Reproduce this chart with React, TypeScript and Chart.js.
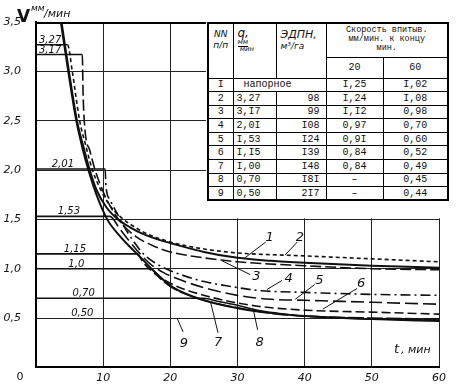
import React, { useEffect, useRef } from 'react';
import { Chart, registerables } from 'chart.js';

Chart.register(...registerables);

// ---- data (t in minutes, V in mm/min) ----
const c1T = [3.8, 4.9, 6.1, 7.0, 8.0, 9.0, 10.5, 12.2, 14, 16, 18, 20, 25, 30, 35, 40, 50, 60];
const c1V = [3.5, 3.0, 2.5, 2.25, 2.0, 1.8, 1.62, 1.5, 1.42, 1.35, 1.3, 1.26, 1.17, 1.11, 1.08, 1.06, 1.03, 1.01];

const c2T = [0, 4.7, 5.4, 6.5, 7.4, 8.4, 9.5, 10.8, 12.5, 14.5, 17, 20, 25, 30, 40, 50, 60];
const c2V = [3.27, 3.27, 3.0, 2.5, 2.25, 2.0, 1.82, 1.66, 1.53, 1.43, 1.34, 1.27, 1.2, 1.16, 1.13, 1.1, 1.07];

const c3T = [0, 6.9, 7.0, 7.3, 8.0, 8.8, 10, 11.5, 13, 15, 17.5, 20, 25, 30, 40, 50, 60];
const c3V = [3.17, 3.17, 2.8, 2.4, 2.2, 2.0, 1.78, 1.58, 1.44, 1.32, 1.23, 1.17, 1.11, 1.07, 1.03, 1.0, 0.99];

const c4T = [0, 10.3, 10.4, 11, 12, 13, 14.5, 16, 17.7, 20, 22, 25, 29, 33, 40, 50, 60];
const c4V = [2.01, 2.01, 1.85, 1.7, 1.57, 1.44, 1.28, 1.15, 1.06, 0.98, 0.93, 0.87, 0.82, 0.78, 0.76, 0.74, 0.73];

const c5T = [0, 11, 12.5, 14, 15.5, 17, 19, 21, 23, 26, 30, 35, 40, 50, 60];
const c5V = [1.53, 1.53, 1.4, 1.27, 1.15, 1.05, 0.96, 0.9, 0.85, 0.79, 0.73, 0.69, 0.68, 0.66, 0.64];

const c6T = [0, 15, 16, 17.5, 19, 21, 24, 28, 33, 40, 50, 60];
const c6V = [1.15, 1.15, 1.06, 0.96, 0.89, 0.82, 0.75, 0.68, 0.62, 0.58, 0.56, 0.54];

const c7T = [0, 17, 18.5, 20, 22, 25, 28, 32, 36, 40, 50, 60];
const c7V = [1.0, 1.0, 0.9, 0.82, 0.75, 0.68, 0.63, 0.58, 0.54, 0.52, 0.5, 0.49];

const c8T = [0, 25, 27, 30, 33, 36, 40, 45, 50, 60];
const c8V = [0.7, 0.7, 0.67, 0.63, 0.58, 0.55, 0.52, 0.5, 0.49, 0.48];

const c9T = [3.7, 4.8, 6.0, 7.0, 7.8, 9.0, 10.6, 12.5, 14, 15.5, 17.5, 20.4, 25, 30, 35, 40, 50, 60];
const c9V = [3.5, 3.0, 2.5, 2.2, 2.0, 1.75, 1.5, 1.33, 1.22, 1.12, 0.98, 0.81, 0.68, 0.6, 0.55, 0.52, 0.49, 0.47];

// curve number labels and their leader lines
const numLabels = ['1', '2', '3', '4', '5', '6', '7', '8', '9'];
const numLabelT = [34.8, 39.3, 32.8, 37.6, 42.2, 48.4, 27.1, 33.3, 22.0];
const numLabelV = [1.31, 1.31, 0.92, 0.90, 0.88, 0.85, 0.25, 0.25, 0.24];
const leadFromT = [34.2, 38.9, 31.9, 36.6, 41.5, 47.8, 27.1, 33.0, 21.9];
const leadFromV = [1.27, 1.27, 0.94, 0.88, 0.84, 0.80, 0.35, 0.38, 0.36];
const leadToT = [31.1, 37.1, 27.7, 34.4, 38.6, 42.7, 26.0, 32.3, 21.0];
const leadToV = [1.11, 1.14, 1.08, 0.79, 0.69, 0.59, 0.66, 0.60, 0.50];

// labels of the supply-rate lines
const qLabels = ['3,27', '3,17', '2,01', '1,53', '1,15', '1,0', '0,70', '0,50'];
const qLabelT = [2.1, 2.1, 4.0, 4.9, 5.8, 6.0, 7.1, 6.9];
const qLabelV = [3.27, 3.17, 2.01, 1.53, 1.15, 1.0, 0.7, 0.5];

// table
const tableNums = ['I', '2', '3', '4', '5', '6', '7', '8', '9'];
const tableQ = ['напорное', '3,27', '3,I7', '2,0I', 'I,53', 'I,I5', 'I,00', '0,70', '0,50'];
const tableEdpn = ['', '98', '99', 'I08', 'I24', 'I39', 'I48', 'I8I', '2I7'];
const table20 = ['I,25', 'I,24', 'I,I2', '0,97', '0,9I', '0,84', '0,84', '–', '–'];
const table60 = ['I,02', 'I,08', '0,98', '0,70', '0,60', '0,52', '0,49', '0,45', '0,44'];

const INK = '#111';
const hand = '"DejaVu Sans", sans-serif';
const mono = '"Liberation Mono", "DejaVu Sans Mono", monospace';

const styles = [
  { t: c1T, v: c1V, w: 2, dash: [] as number[] },
  { t: c2T, v: c2V, w: 1.6, dash: [4, 3] },
  { t: c3T, v: c3V, w: 1.6, dash: [11, 4] },
  { t: c4T, v: c4V, w: 1.6, dash: [10, 4, 2, 4] },
  { t: c5T, v: c5V, w: 1.6, dash: [13, 5] },
  { t: c6T, v: c6V, w: 1.6, dash: [9, 4] },
  { t: c7T, v: c7V, w: 1.6, dash: [16, 3] },
  { t: c8T, v: c8V, w: 1.4, dash: [] as number[] },
  { t: c9T, v: c9V, w: 2, dash: [] as number[] },
];

const annotPlugin = {
  id: 'annot',
  beforeDatasetsDraw(chart: any) {
    const { ctx, scales, width } = chart;
    const x = scales.x, y = scales.y;
    const mx = x.getPixelForValue(25.3);
    const my = y.getPixelForValue(1.5) - 1;
    ctx.save();
    ctx.fillStyle = '#fff';
    ctx.fillRect(mx, 0, width - mx, my);
    ctx.restore();
  },
  afterDraw(chart: any) {
    const { ctx, scales, chartArea } = chart;
    const x = scales.x;
    ctx.save();
    ctx.strokeStyle = '#000';
    ctx.lineWidth = 2;
    ctx.setLineDash([]);
    ctx.beginPath();
    ctx.moveTo(chartArea.left - 1, chartArea.top + 1);
    ctx.lineTo(x.getPixelForValue(25.3), chartArea.top + 1);
    ctx.stroke();
    ctx.restore();
  },
  afterDatasetsDraw(chart: any) {
    const { ctx, scales, chartArea } = chart;
    const x = scales.x, y = scales.y;
    ctx.save();
    ctx.fillStyle = INK;
    ctx.strokeStyle = INK;
    // q labels
    ctx.font = `italic 10px ${hand}`;
    ctx.textAlign = 'center';
    ctx.textBaseline = 'alphabetic';
    qLabels.forEach((s, i) => {
      ctx.fillText(s, x.getPixelForValue(qLabelT[i]), y.getPixelForValue(qLabelV[i]) - 2);
    });
    // curve number labels with leaders
    ctx.font = `italic 13px ${hand}`;
    ctx.textBaseline = 'middle';
    ctx.lineWidth = 1;
    numLabels.forEach((s, i) => {
      ctx.fillText(s, x.getPixelForValue(numLabelT[i]), y.getPixelForValue(numLabelV[i]));
      ctx.beginPath();
      ctx.moveTo(x.getPixelForValue(leadFromT[i]), y.getPixelForValue(leadFromV[i]));
      ctx.lineTo(x.getPixelForValue(leadToT[i]), y.getPixelForValue(leadToV[i]));
      ctx.stroke();
    });
    // axis titles
    ctx.textAlign = 'left';
    ctx.textBaseline = 'alphabetic';
    ctx.font = `bold 17px ${hand}`;
    ctx.fillText('V', 17, 22);
    ctx.font = `italic 9px ${hand}`;
    ctx.fillText('мм', 31, 11);
    ctx.font = `italic 11px ${hand}`;
    ctx.fillText('/мин', 44, 17);
    ctx.font = `italic 13px ${hand}`;
    ctx.fillText('t', 394, 353);
    ctx.font = `italic 11px ${hand}`;
    ctx.fillText(', мин', 401, 353);
    // origin label
    ctx.font = `11px ${hand}`;
    ctx.textAlign = 'center';
    ctx.textBaseline = 'middle';
    ctx.fillText('0', chartArea.left - 16, chartArea.bottom + 10);
    ctx.restore();
  },
};

function Table() {
  const cell: React.CSSProperties = { border: '1px solid #000', padding: 0, textAlign: 'center', lineHeight: '11px' };
  const rowH = 13.6;
  return (
    <table
      style={{
        position: 'absolute', left: 207, top: 22, width: 240, borderCollapse: 'collapse',
        tableLayout: 'fixed', border: '2px solid #000', background: '#fff', color: INK,
        fontFamily: mono, fontSize: 10,
      }}
    >
      <colgroup>
        <col style={{ width: 25 }} />
        <col style={{ width: 43 }} />
        <col style={{ width: 50 }} />
        <col style={{ width: 57 }} />
        <col style={{ width: 65 }} />
      </colgroup>
      <tbody>
        <tr style={{ height: 34 }}>
          <td rowSpan={2} style={{ ...cell, verticalAlign: 'top', paddingTop: 5, fontFamily: hand, fontStyle: 'italic', fontSize: 9 }}>
            NN<br />п/п
          </td>
          <td rowSpan={2} style={{ ...cell, verticalAlign: 'top', paddingTop: 4, textAlign: 'left', paddingLeft: 4, fontFamily: hand, fontStyle: 'italic' }}>
            <span style={{ fontSize: 12 }}>q,</span>
            <br />
            <span style={{ fontSize: 7, lineHeight: '7px', display: 'inline-block' }}>
              <span style={{ borderBottom: '1px solid #000' }}>мм</span>
              <br />&nbsp;мин
            </span>
          </td>
          <td rowSpan={2} style={{ ...cell, verticalAlign: 'top', paddingTop: 5, textAlign: 'left', paddingLeft: 4, fontFamily: hand, fontStyle: 'italic', fontSize: 11 }}>
            ЭДПН,<br />
            <span style={{ fontSize: 9 }}>м³/га</span>
          </td>
          <td colSpan={2} style={{ ...cell, fontSize: 8.5, lineHeight: '9px', verticalAlign: 'top', paddingTop: 2 }}>
            Скорость впитыв.<br />мм/мин. к концу<br />мин.
          </td>
        </tr>
        <tr style={{ height: 21 }}>
          <td style={cell}>20</td>
          <td style={cell}>60</td>
        </tr>
        {tableNums.map((n, i) => (
          <tr key={n} style={{ height: rowH }}>
            <td style={cell}>{n}</td>
            {i === 0 ? (
              <td colSpan={2} style={{ ...cell, textAlign: 'left', paddingLeft: 10 }}>{tableQ[i]}</td>
            ) : (
              <>
                <td style={{ ...cell, textAlign: 'left', paddingLeft: 3 }}>{tableQ[i]}</td>
                <td style={{ ...cell, textAlign: 'right', paddingRight: 6 }}>{tableEdpn[i]}</td>
              </>
            )}
            <td style={cell}>{table20[i]}</td>
            <td style={cell}>{table60[i]}</td>
          </tr>
        ))}
      </tbody>
    </table>
  );
}

export default function App() {
  const ref = useRef<HTMLCanvasElement>(null);
  useEffect(() => {
    if (!ref.current) return;
    const tickFont = { family: hand, style: 'italic' as const, size: 11 };
    const datasets = styles.map((s) => ({
      data: s.t.map((t, i) => ({ x: t, y: s.v[i] })),
      borderColor: INK,
      borderWidth: s.w,
      borderDash: s.dash,
      pointRadius: 0,
      fill: false,
      cubicInterpolationMode: 'monotone' as const,
      segment: {
        borderDash: (c: any) => (c.p0.parsed.y === c.p1.parsed.y ? [] : s.dash),
      },
    }));
    const chart = new Chart(ref.current, {
      type: 'line',
      data: { datasets },
      options: {
        animation: false,
        responsive: false,
        devicePixelRatio: 1,
        layout: { padding: { top: 22, right: 17, left: 0, bottom: 0 } },
        plugins: { legend: { display: false }, tooltip: { enabled: false } },
        scales: {
          x: {
            type: 'linear', min: 0, max: 60,
            afterFit: (s: any) => { s.height = 21; },
            ticks: {
              stepSize: 10, autoSkip: false, maxRotation: 0, padding: 4,
              callback: (v: any) => (v === 0 ? '' : String(v)),
              font: tickFont, color: INK,
            },
            grid: { color: '#222', lineWidth: 1, drawTicks: false },
            border: { display: true, color: '#000', width: 2 },
          },
          y: {
            min: 0, max: 3.5,
            afterFit: (s: any) => { s.width = 36; },
            ticks: {
              stepSize: 0.5, padding: 15,
              callback: (v: any) => (v === 0 ? '' : Number(v).toFixed(1).replace('.', ',')),
              font: tickFont, color: INK,
            },
            grid: { color: '#222', lineWidth: 1, drawTicks: false },
            border: { display: true, color: '#000', width: 2 },
          },
        },
      },
      plugins: [annotPlugin],
    });
    return () => chart.destroy();
  }, []);
  return (
    <div style={{ position: 'fixed', left: 0, top: 0, width: 456, height: 389, background: '#fff' }}>
      <canvas ref={ref} width={456} height={389} style={{ position: 'absolute', left: 0, top: 0 }} />
      <Table />
    </div>
  );
}
